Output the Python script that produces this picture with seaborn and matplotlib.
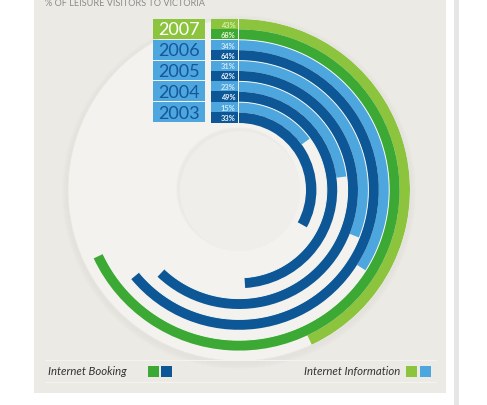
import numpy as np
import pandas as pd
import matplotlib
matplotlib.use("Agg")
import matplotlib.pyplot as plt
import seaborn as sns
from matplotlib.patches import Rectangle, Circle

# Share of leisure visitors to Victoria using the internet, by year
years = ["2007", "2006", "2005", "2004", "2003"]
info_pct = [43, 34, 31, 23, 15]        # Internet Information
booking_pct = [68, 64, 62, 49, 33]     # Internet Booking

title = "% OF LEISURE VISITORS TO VICTORIA"
legend_booking = "Internet Booking"
legend_info = "Internet Information"

LIGHT_GREEN = "#8CC43E"
DARK_GREEN = "#3DA935"
LIGHT_BLUE = "#4DA6DD"
DARK_BLUE = "#0E5797"
PANEL = "#EBEAE5"
DISC = "#F3F2EE"

sns.set_theme(style="white")

W, H = 487, 406
fig = plt.figure(figsize=(W / 100, H / 100), dpi=100)
fig.patch.set_facecolor("white")

# pixel-space layer for the panel, disc and label boxes
bg = fig.add_axes([0, 0, 1, 1])
bg.set_xlim(0, W)
bg.set_ylim(H, 0)
bg.axis("off")

bg.add_patch(Rectangle((34, -5), 412, 399, facecolor=PANEL, edgecolor="none"))
bg.add_patch(Rectangle((454, -5), 5, 420, facecolor="#E6E6E6", edgecolor="none"))

cx, cy, R = 239, 191, 171
# soft shadow under the disc
for k in range(6):
    bg.add_patch(Circle((cx, cy + 2), R + 6 - k, facecolor="#cfcec8",
                        alpha=0.04, edgecolor="none"))
bg.add_patch(Circle((cx, cy), R, facecolor=DISC, edgecolor="#e8e7e2", lw=0.6))
# the hole in the middle
for k in range(4):
    bg.add_patch(Circle((cx - 1, cy - 1), 62 - k * 0.6, facecolor="#dcdbd5",
                        alpha=0.09, edgecolor="none"))
bg.add_patch(Circle((cx + 1, cy + 1), 60, facecolor="#EFEEEA", edgecolor="none"))

bg.text(45, 4, title, fontsize=6.6, color="#8a8a88", family="Lato",
        va="center", ha="left")

# ring data: each year has an information ring (outer) and a booking ring (inner)
ring_w = 10.4
rows = []
for i, yr in enumerate(years):
    tone = "2007" if i == 0 else "other"
    for j, (kind, pct) in enumerate((("info", info_pct[i]), ("booking", booking_pct[i]))):
        k = 2 * i + j
        rows.append({
            "year": yr,
            "kind": kind,
            "pct": pct,
            "theta": pct / 100 * 2 * np.pi,
            "radius": R - ring_w * (k + 0.5),
            "tone": f"{kind}_{tone}",
        })
df = pd.DataFrame(rows)
palette = {
    "info_2007": LIGHT_GREEN, "booking_2007": DARK_GREEN,
    "info_other": LIGHT_BLUE, "booking_other": DARK_BLUE,
}

pax = fig.add_axes([(cx - R) / W, (H - cy - R) / H, 2 * R / W, 2 * R / H],
                   projection="polar")
pax.set_theta_zero_location("N")
pax.set_theta_direction(-1)
pax.patch.set_alpha(0)

sns.barplot(data=df, x="theta", y="radius", hue="tone", palette=palette,
            orient="h", native_scale=True, dodge=False, width=1.0,
            saturation=1, errorbar=None, legend=False,
            linewidth=0, ax=pax)

# thin light separators between consecutive years
for i in range(1, len(years)):
    r_sep = R - 2 * ring_w * i
    t_end = booking_pct[i - 1] / 100 * 2 * np.pi
    t = np.linspace(0, t_end, 200)
    pax.plot(t, np.full_like(t, r_sep), color="#f4f9f4", lw=0.7,
             solid_capstyle="butt")

pax.set_xlim(0, 2 * np.pi)
pax.set_ylim(0, R)
pax.grid(False)
pax.set_xticks([])
pax.set_yticks([])
pax.set_xlabel("")
pax.set_ylabel("")
pax.spines["polar"].set_visible(False)

# year boxes and percentage boxes to the left of the start line
for i, yr in enumerate(years):
    top = cy - R + 2 * ring_w * i
    h = 2 * ring_w - 1
    if i == 0:
        box_c, txt_c, lc, dc = LIGHT_GREEN, "white", LIGHT_GREEN, DARK_GREEN
        info_txt, book_txt = "#d6efa6", "#e2f5c8"
    else:
        box_c, txt_c, lc, dc = LIGHT_BLUE, "#14579A", LIGHT_BLUE, DARK_BLUE
        info_txt, book_txt = "#d2eaf9", "#eaf3fb"
    bg.add_patch(Rectangle((153, top), 52, h, facecolor=box_c, edgecolor="none"))
    bg.text(179, top + h / 2 + 0.5, yr, fontsize=13, color=txt_c, family="Lato",
            ha="center", va="center")
    bg.add_patch(Rectangle((211, top), 26.5, h / 2, facecolor=lc, edgecolor="none"))
    bg.add_patch(Rectangle((211, top + h / 2), 26.5, h / 2 + 0.5, facecolor=dc,
                           edgecolor="none"))
    bg.text(235.5, top + h / 4 + 0.3, f"{info_pct[i]}%", fontsize=5.4, color=info_txt,
            family="Lato", weight="bold", ha="right", va="center")
    bg.text(235.5, top + 3 * h / 4 + 0.5, f"{booking_pct[i]}%", fontsize=5.4,
            color=book_txt, family="Lato", weight="bold", ha="right", va="center")

# legend row
for yl in (361, 383):
    bg.plot([45, 436], [yl, yl], color="#f4f3f0", lw=0.8)
bg.text(48, 372, legend_booking, fontsize=8.2, style="italic", color="#333333",
        family="Lato", ha="left", va="center")
bg.add_patch(Rectangle((148, 367), 10.5, 11, facecolor=DARK_GREEN, edgecolor="none"))
bg.add_patch(Rectangle((161, 367), 10.5, 11, facecolor=DARK_BLUE, edgecolor="none"))
bg.text(400, 372, legend_info, fontsize=8.2, style="italic", color="#333333",
        family="Lato", ha="right", va="center")
bg.add_patch(Rectangle((406, 367), 10.5, 11, facecolor=LIGHT_GREEN, edgecolor="none"))
bg.add_patch(Rectangle((420, 367), 10.5, 11, facecolor=LIGHT_BLUE, edgecolor="none"))

fig.savefig("out.png", dpi=100, facecolor=fig.get_facecolor())
